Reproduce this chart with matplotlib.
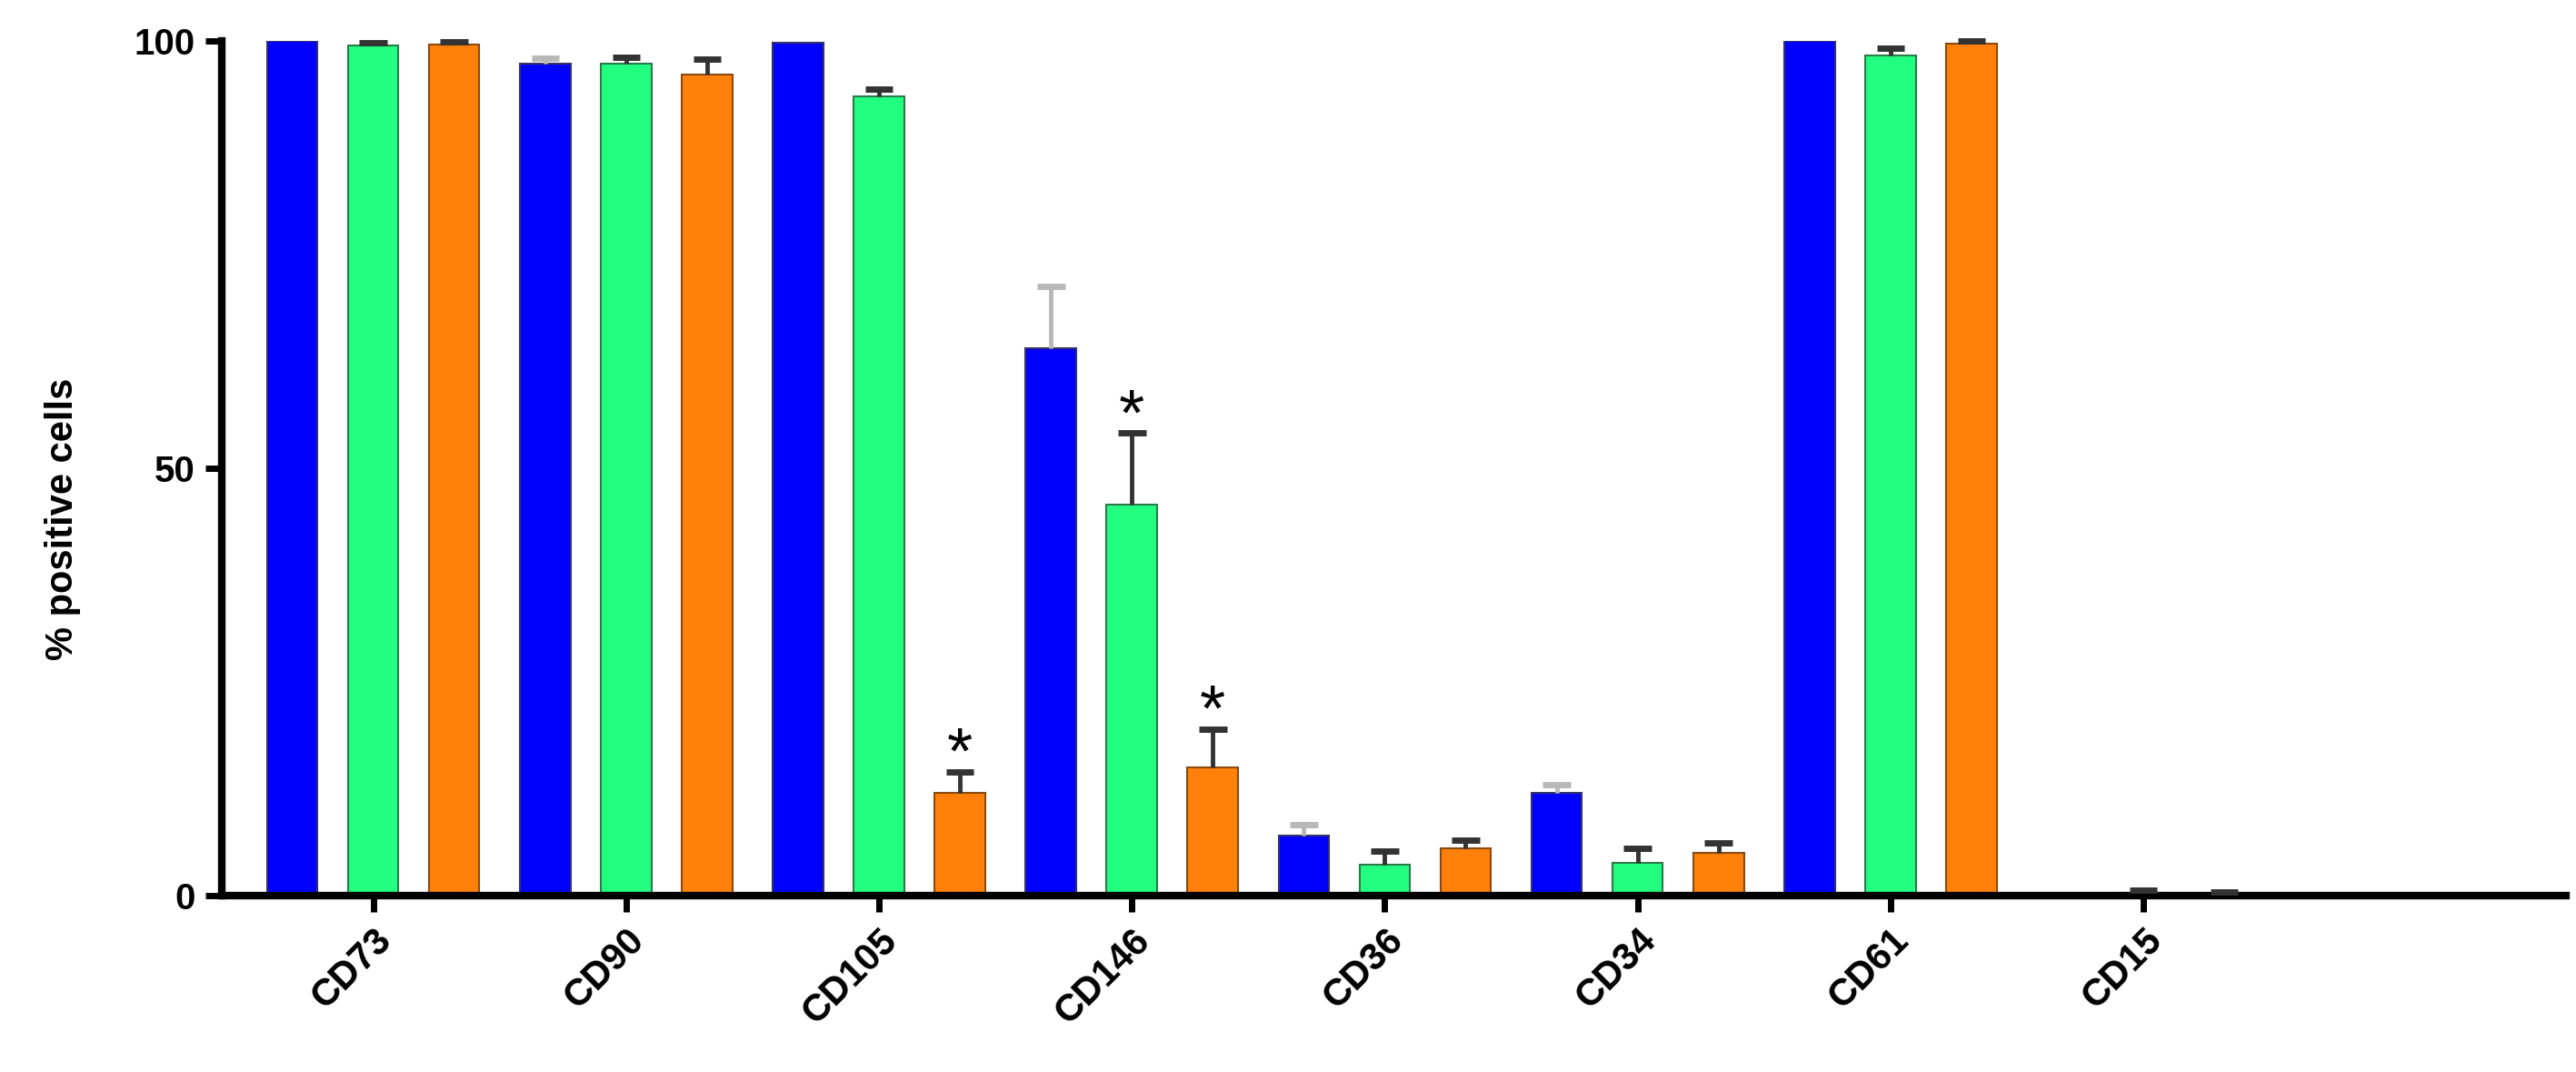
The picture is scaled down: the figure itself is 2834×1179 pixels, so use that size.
import numpy as np
import matplotlib.pyplot as plt

plt.rcParams['font.family'] = ['Liberation Sans', 'DejaVu Sans']

markers = ["CD73", "CD90", "CD105", "CD146", "CD36", "CD34", "CD61", "CD15"]
blue_vals = [100.0, 97.3, 99.8, 64.0, 7.0, 12.0, 100.0, 0.0]
blue_err = [0.0, 0.7, 0.0, 7.3, 1.3, 1.0, 0.0, 0.0]
green_vals = [99.5, 97.3, 93.5, 45.7, 3.6, 3.8, 98.3, 0.3]
green_err = [0.3, 0.8, 0.8, 8.4, 1.6, 1.7, 0.8, 0.3]
orange_vals = [99.6, 96.0, 12.0, 15.0, 5.5, 5.0, 99.7, 0.2]
orange_err = [0.3, 1.8, 2.5, 4.5, 1.0, 1.2, 0.3, 0.2]
# which bars are flagged with an asterisk (group index, series index)
stars = [(2, 2), (3, 1), (3, 2)]

W = 0.2
OFF = 0.32
CAP = 0.055
x = np.arange(len(markers))

fig = plt.figure(figsize=(28.34, 11.79), dpi=100)
ax = fig.add_axes([0.086, 0.1646, 0.91, 0.7974])

series = [
    (blue_vals, blue_err, "#0000ff", "#333366", "#b8b8b8"),
    (green_vals, green_err, "#22ff80", "#2a7a4a", "#333333"),
    (orange_vals, orange_err, "#ff800a", "#8a4a10", "#333333"),
]
tops = []
for i, (vals, err, fc, ec, errc) in enumerate(series):
    xs = x + (i - 1) * OFF
    v = np.array(vals)
    e = np.array(err)
    ax.bar(xs, v, width=W, color=fc, edgecolor=ec, linewidth=1.5, zorder=2)
    m = e > 0
    # upper-only error bars: stem + cap
    ax.vlines(xs[m], v[m], v[m] + e[m], colors=errc, linewidth=3.5, zorder=3, clip_on=False)
    ax.hlines(v[m] + e[m], xs[m] - CAP, xs[m] + CAP, colors=errc, linewidth=5,
              zorder=3, clip_on=False)
    tops.append(v + e)

for g, s in stars:
    ax.text(x[g] + (s - 1) * OFF, tops[s][g] - 1.8, "*", ha="center", va="bottom",
            fontsize=52)

ax.set_xlim(-0.6, 8.67)
ax.set_ylim(0, 100)
ax.set_yticks([0, 50, 100])
ax.set_xticks(x)
ax.set_xticklabels(markers, rotation=45, ha="right", rotation_mode="anchor",
                   fontsize=30, fontweight="bold")
for lab in ax.get_yticklabels():
    lab.set_fontsize(29)
    lab.set_fontweight("bold")
ax.set_ylabel("% positive cells", fontsize=30, fontweight="bold")
ax.yaxis.set_label_coords(-0.06, 0.44)

for side in ["top", "right"]:
    ax.spines[side].set_visible(False)
for side in ["left", "bottom"]:
    ax.spines[side].set_linewidth(6)
ax.tick_params(axis="both", width=5, length=13, pad=8)

fig.savefig("out.png", dpi=100)
